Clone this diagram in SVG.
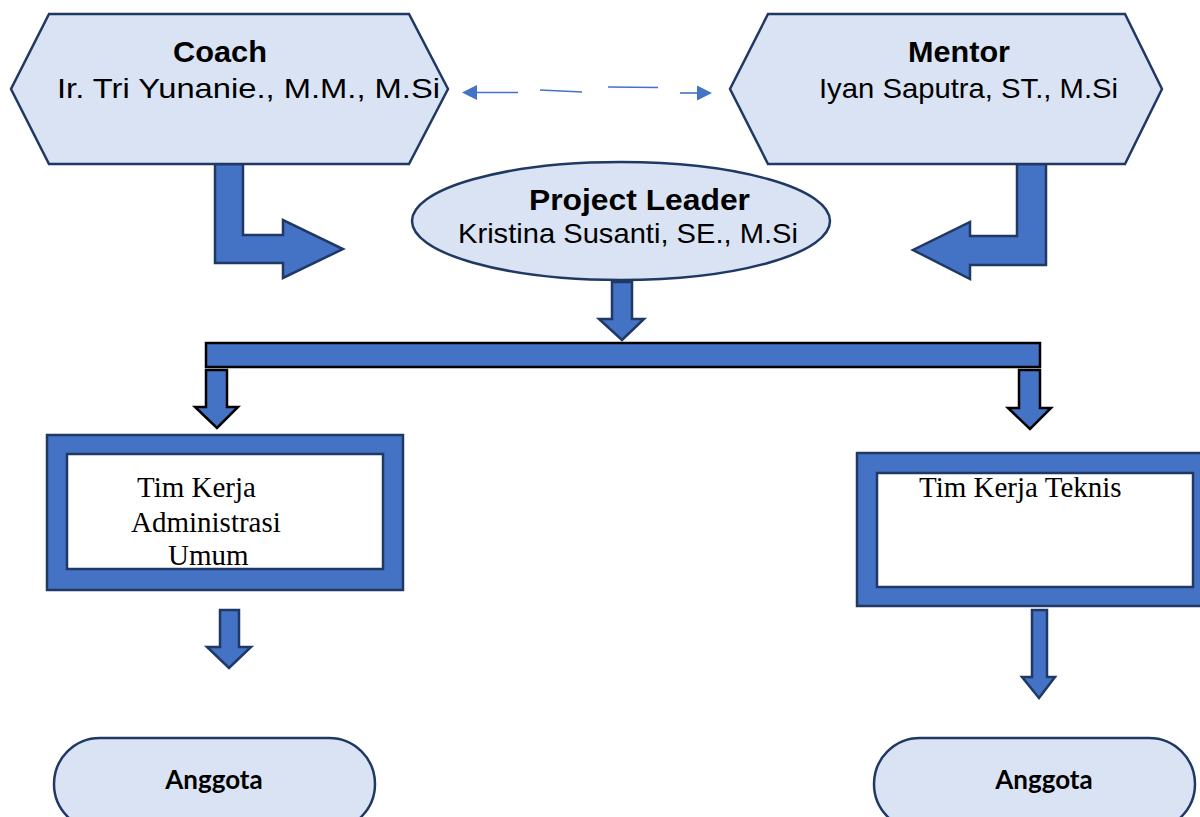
<svg xmlns="http://www.w3.org/2000/svg" width="1200" height="817" viewBox="0 0 1200 817">
<style>
.shape{fill:#DAE3F3;stroke:#1F3864;stroke-width:2.5}
.blue{fill:#4472C4;stroke:#1F3864;stroke-width:2.5}
.blk{fill:#4472C4;stroke:#000;stroke-width:2.5}
.inner{fill:#fff;stroke:#1F3864;stroke-width:2.5}
.sans{font-family:"Liberation Sans",Arial,sans-serif;fill:#000}
.serif{font-family:"Liberation Serif","Times New Roman",serif;fill:#000;font-size:29px}
.pill{font-family:Lato,"Liberation Sans",sans-serif;font-weight:bold;font-size:26px;fill:#000}
.dash{stroke:#4472C4;stroke-width:1.6;fill:none}
</style>
<rect width="1200" height="817" fill="#fff"/>
<g id="connectors">
  <path class="blue" d="M215,164 L243,164 L243,235 L283,235 L283,220 L343,249 L283,278 L283,263 L215,263 Z"/>
  <path class="blue" d="M1046,164 L1017,164 L1017,236 L970,236 L970,222 L913,250 L970,279 L970,265 L1046,265 Z"/>
  <path class="blue" d="M612,282 L632,282 L632,319 L644,319 L622,340 L599,319 L612,319 Z"/>
  <rect class="blk" x="206" y="343" width="834" height="24"/>
  <path class="blk" d="M206,370 L227,370 L227,407 L238,407 L217,428 L195,407 L206,407 Z"/>
  <path class="blk" d="M1019,370 L1040,370 L1040,408 L1051,408 L1030,429 L1008,408 L1019,408 Z"/>
  <path class="blue" d="M220,610 L239,610 L239,647 L251,647 L229,668 L207,647 L220,647 Z"/>
  <path class="blue" d="M1032,610 L1047,610 L1047,677 L1055,677 L1039,698 L1022,677 L1032,677 Z" stroke-width="2"/>
  <g id="dashed-link">
    <line class="dash" x1="474" y1="92.5" x2="518" y2="92.5"/>
    <line class="dash" x1="540" y1="90" x2="582" y2="92"/>
    <line class="dash" x1="608" y1="87" x2="658" y2="87.5"/>
    <line class="dash" x1="680" y1="93" x2="700" y2="93"/>
    <polygon points="462,92.5 477,85 477,100" fill="#4472C4"/>
    <polygon points="712,93 697,85.5 697,100.5" fill="#4472C4"/>
  </g>
</g>
<g id="coach">
  <polygon class="shape" points="49,14 409,14 448,89 409,164 49,164 11,89"/>
  <text class="sans" x="220" y="62" font-size="30" font-weight="bold" text-anchor="middle" textLength="94" lengthAdjust="spacingAndGlyphs">Coach</text>
  <text class="sans" x="57" y="98" font-size="28" textLength="383" lengthAdjust="spacingAndGlyphs">Ir. Tri Yunanie., M.M., M.Si</text>
</g>
<g id="mentor">
  <polygon class="shape" points="768,14 1125,14 1162,89 1125,164 768,164 730,89"/>
  <text class="sans" x="959" y="62" font-size="30" font-weight="bold" text-anchor="middle" textLength="102" lengthAdjust="spacingAndGlyphs">Mentor</text>
  <text class="sans" x="819" y="98" font-size="28" textLength="299" lengthAdjust="spacingAndGlyphs">Iyan Saputra, ST., M.Si</text>
</g>
<g id="project-leader">
  <ellipse class="shape" cx="621" cy="221" rx="209" ry="59"/>
  <text class="sans" x="529" y="210" font-size="30" font-weight="bold" textLength="221" lengthAdjust="spacingAndGlyphs">Project Leader</text>
  <text class="sans" x="458" y="243" font-size="28" textLength="340" lengthAdjust="spacingAndGlyphs">Kristina Susanti, SE., M.Si</text>
</g>
<g id="tim-admin">
  <rect class="blue" x="47" y="435" width="356" height="155" stroke-width="1.5"/>
  <rect class="inner" x="67" y="454" width="316" height="115"/>
  <text class="serif" x="137" y="497">Tim Kerja</text>
  <text class="serif" x="131" y="532">Administrasi</text>
  <text class="serif" x="168" y="565">Umum</text>
</g>
<g id="tim-teknis">
  <rect class="blue" x="857" y="453" width="350" height="153" stroke-width="1.5"/>
  <rect class="inner" x="877" y="473" width="316" height="114"/>
  <text class="serif" x="919" y="497">Tim Kerja Teknis</text>
</g>
<g id="anggota-1">
  <rect class="shape" x="54" y="738" width="321" height="92" rx="46" ry="46"/>
  <text class="pill" x="214" y="789" text-anchor="middle">Anggota</text>
</g>
<g id="anggota-2">
  <rect class="shape" x="874" y="738" width="321" height="92" rx="46" ry="46"/>
  <text class="pill" x="1044" y="789" text-anchor="middle">Anggota</text>
</g>
</svg>
